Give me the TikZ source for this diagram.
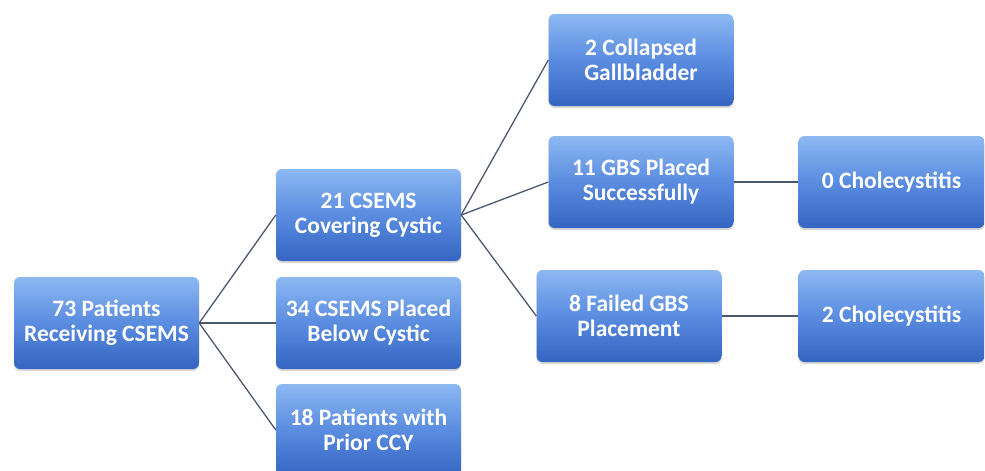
\documentclass[tikz,border=0pt]{standalone}
\usepackage{fontspec}
\setmainfont{Carlito}
\usetikzlibrary{shadows}
\definecolor{boxtop}{HTML}{8CB8F2}
\definecolor{boxmid}{HTML}{5A8CE0}
\definecolor{boxbot}{HTML}{3465C2}
\definecolor{linkcol}{HTML}{4A5870}
\begin{document}
\begin{tikzpicture}[x=1pt,y=-1pt,
  box/.style={rectangle, rounded corners=6pt, minimum width=185pt, minimum height=92pt,
    top color=boxtop, bottom color=boxbot, middle color=boxmid,
    drop shadow={shadow xshift=0pt, shadow yshift=-2pt, opacity=0.25, fill=black!60},
    text=white, font=\fontsize{23.5}{25}\selectfont\bfseries, align=center, inner sep=2pt},
  link/.style={draw=linkcol, line width=1.3pt}]
\useasboundingbox (0,0) rectangle (985,471);
\node[box] (root) at (106.5,323) {73 Patients\\Receiving CSEMS};
\node[box] (cover) at (368.5,215) {21 CSEMS\\Covering Cystic};
\node[box] (below) at (368.5,323) {34 CSEMS Placed\\Below Cystic};
\node[box] (prior) at (368.5,430) {18 Patients with\\Prior CCY};
\node[box] (collapsed) at (641,60) {2 Collapsed\\Gallbladder};
\node[box] (placed) at (641,182) {11 GBS Placed\\Successfully};
\node[box] (failed) at (629,316) {8 Failed GBS\\Placement};
\node[box, minimum width=186pt] (zero) at (891.5,182) {0 Cholecystitis};
\node[box, minimum width=186pt] (two) at (891.5,316) {2 Cholecystitis};
\draw[link] (root.east) -- (cover.west);
\draw[link] (root.east) -- (below.west);
\draw[link] (root.east) -- (prior.west);
\draw[link] (cover.east) -- (collapsed.west);
\draw[link] (cover.east) -- (placed.west);
\draw[link] (cover.east) -- (failed.west);
\draw[link] (placed.east) -- (zero.west);
\draw[link] (failed.east) -- (two.west);
\end{tikzpicture}
\end{document}
